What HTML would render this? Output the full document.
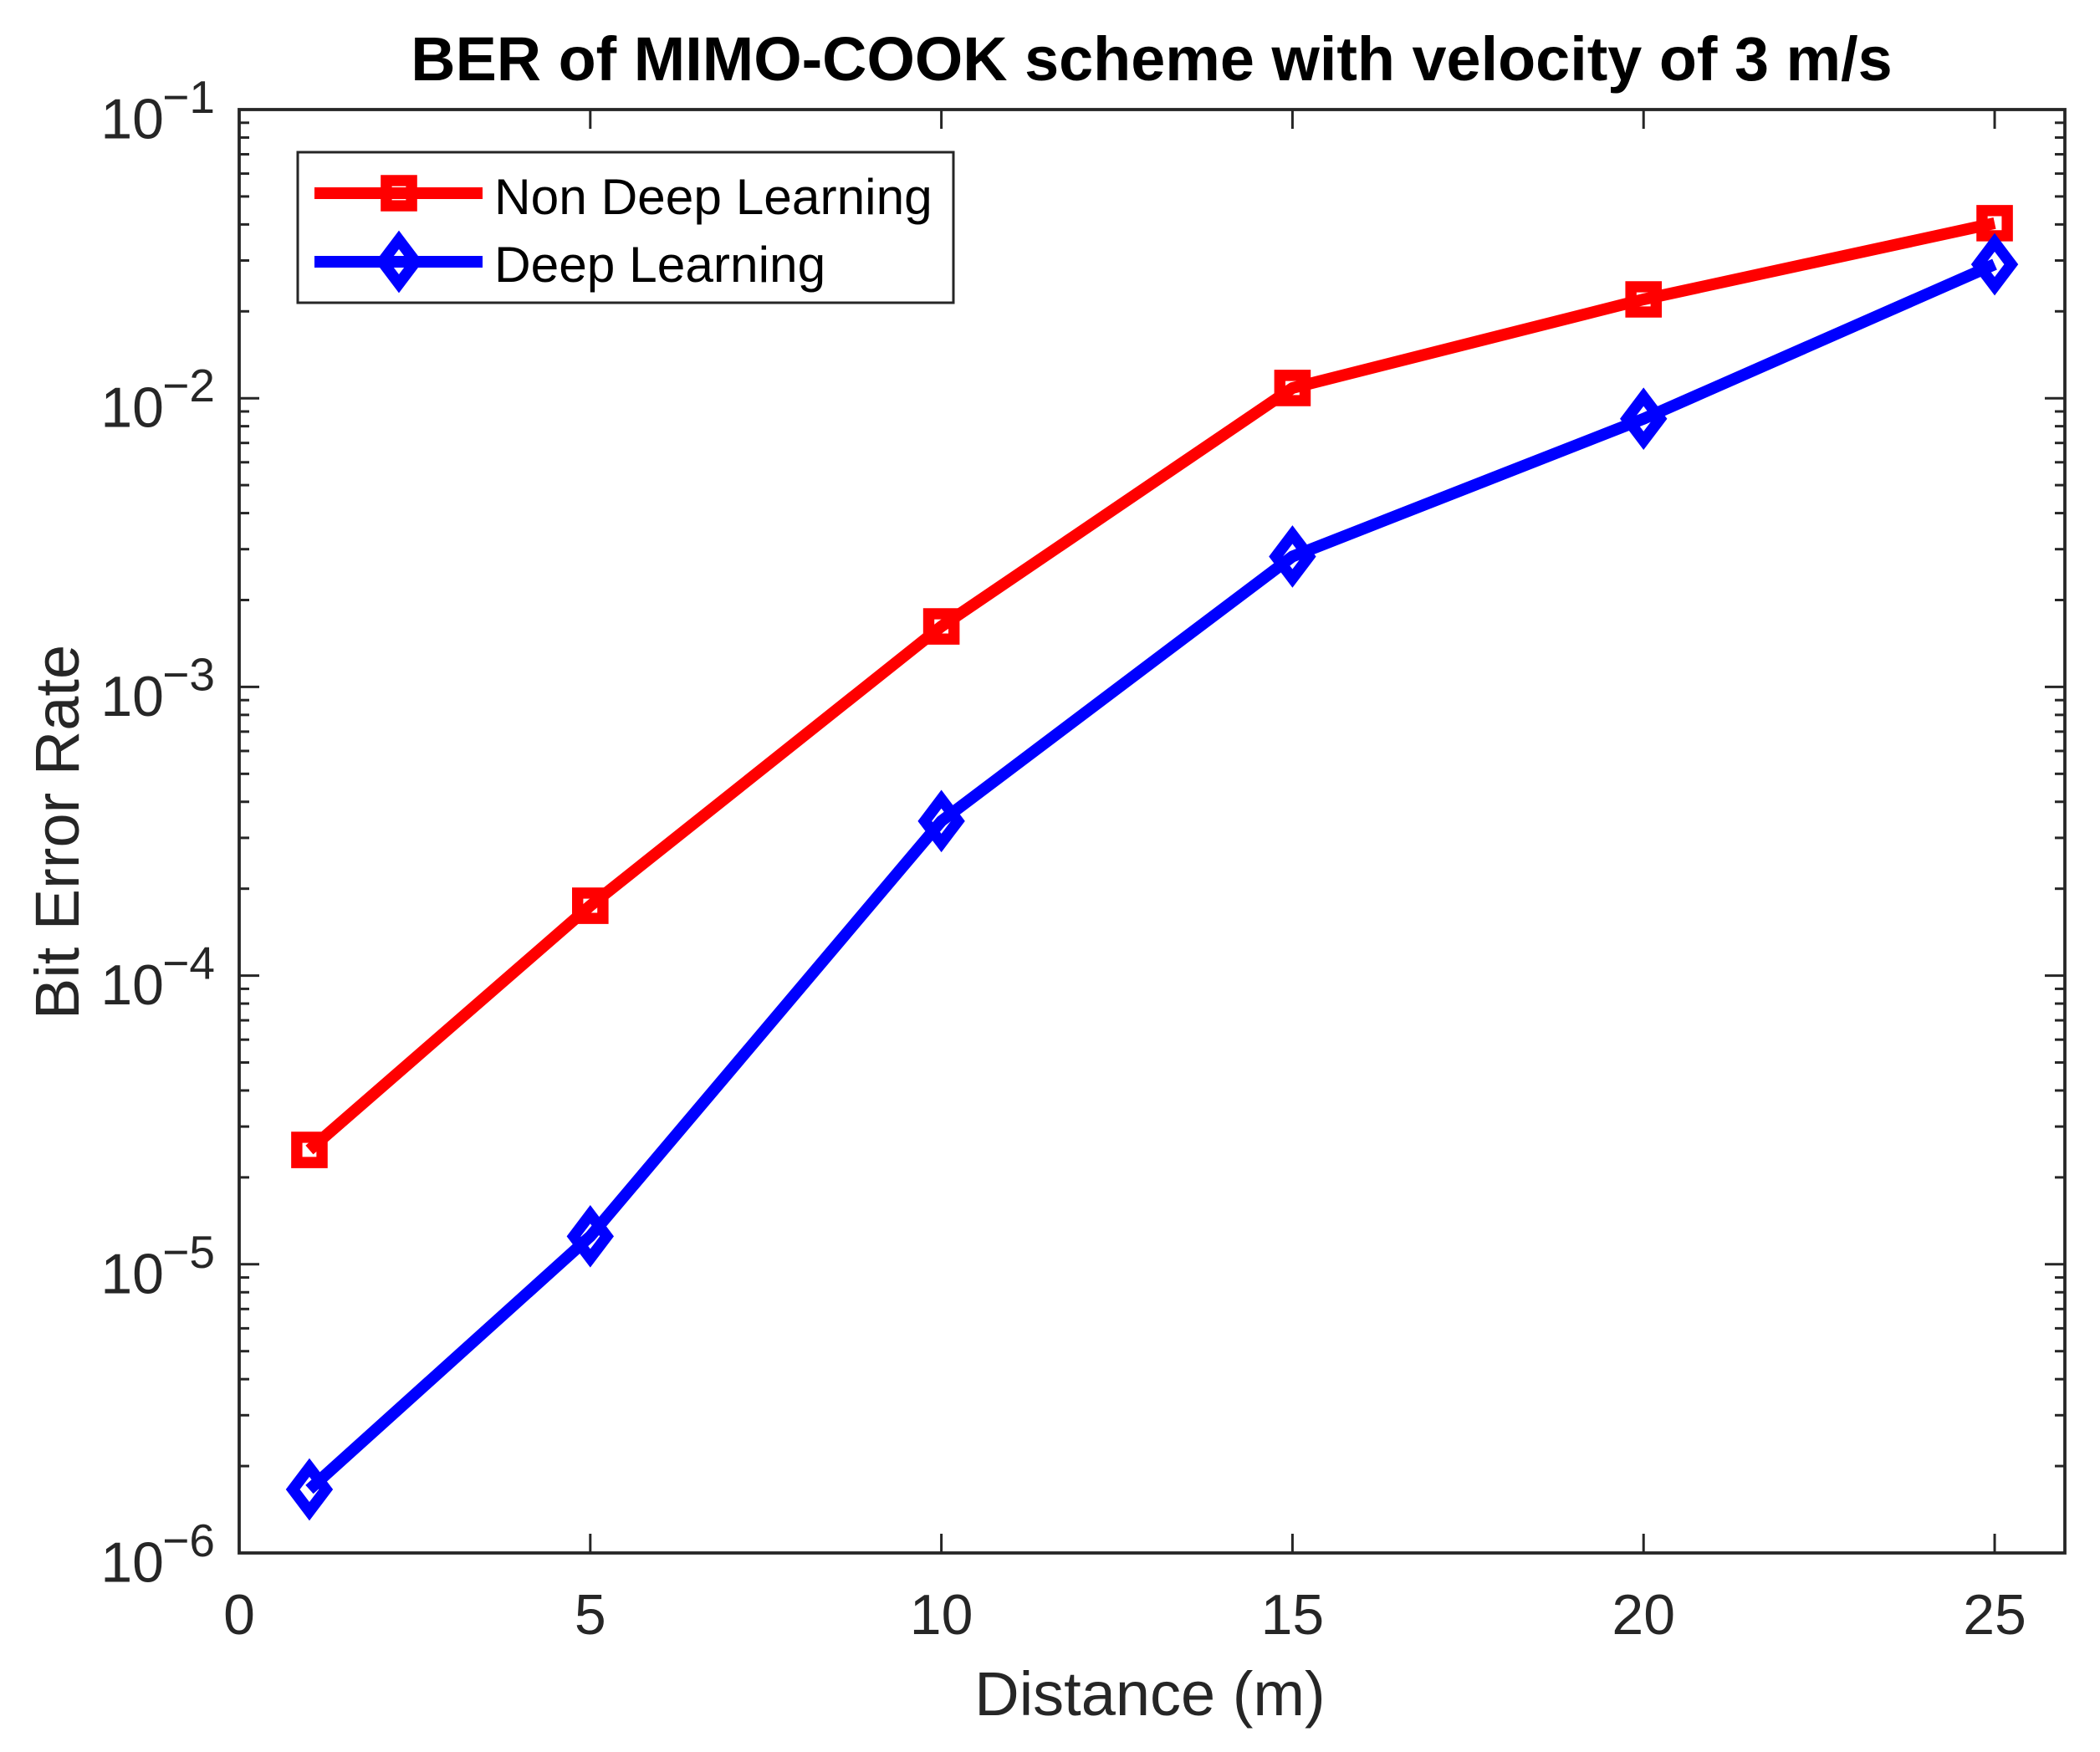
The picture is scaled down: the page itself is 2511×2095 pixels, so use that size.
<!DOCTYPE html>
<html lang="en">
<head>
<meta charset="utf-8">
<title>BER of MIMO-COOK scheme with velocity of 3 m/s</title>
<style>
html,body{margin:0;padding:0;background:#fff;}
svg{display:block;font-family:"Liberation Sans",Arial,sans-serif;}
</style>
</head>
<body>
<svg id="chart" xmlns="http://www.w3.org/2000/svg" width="2511" height="2095" viewBox="0 0 2511 2095">
  <rect x="0" y="0" width="2511" height="2095" fill="#ffffff"/>
  <text x="1377" y="96" font-size="73.8" font-weight="bold" fill="#000" text-anchor="middle">BER of MIMO-COOK scheme with velocity of 3 m/s</text>
  <text x="1375" y="2051" font-size="74" fill="#262626" text-anchor="middle">Distance (m)</text>
  <text transform="translate(94 995) rotate(-90)" font-size="74" fill="#262626" text-anchor="middle">Bit Error Rate</text>
  <g id="ticks"></g>
  <g id="labels"></g>
  <g id="series"></g>
  <rect x="286" y="131" width="2183" height="1726" fill="none" stroke="#262626" stroke-width="3.8"/>
  <g id="legend">
    <rect x="356" y="182" width="784" height="180" fill="#fff" stroke="#262626" stroke-width="3"/>
    <text x="591" y="256" font-size="60.4" fill="#000">Non Deep Learning</text>
    <text x="591" y="337" font-size="60.4" fill="#000">Deep Learning</text>
  </g>
</svg>
<script>
const distances = [1, 5, 10, 15, 20, 25];
const nonDeepLearning = [2.49e-5, 1.746e-4, 1.62e-3, 0.01085, 0.022, 0.0404];
const deepLearning = [1.66e-6, 1.25e-5, 3.43e-4, 0.00283, 0.00849, 0.0291];
const xTickValues = [0, 5, 10, 15, 20, 25];
const yTickExponents = [-6, -5, -4, -3, -2, -1];
const minorMultipliers = [2, 3, 4, 5, 6, 7, 8, 9];

const NS = 'http://www.w3.org/2000/svg';
const plot = {left: 286, right: 2469, top: 131, bottom: 1857};
const xMax = 26, yMinExp = -6, yMaxExp = -1;
function X(v) { return plot.left + v / xMax * (plot.right - plot.left); }
function Y(v) { return plot.bottom - (Math.log10(v) - yMinExp) / (yMaxExp - yMinExp) * (plot.bottom - plot.top); }
function mk(parent, tag, attrs, text) {
  const el = document.createElementNS(NS, tag);
  for (const k in attrs) el.setAttribute(k, attrs[k]);
  if (text !== undefined) el.textContent = text;
  parent.appendChild(el);
  return el;
}
function tick(x1, y1, x2, y2) {
  return mk(ticksG, 'line', {x1: x1, y1: y1, x2: x2, y2: y2, stroke: '#262626', 'stroke-width': 3});
}
function squarePath(cx, cy) {
  const a = 15.1;
  return 'M' + (cx - a) + ' ' + (cy - a) + 'H' + (cx + a) + 'V' + (cy + a) + 'H' + (cx - a) + 'Z';
}
function diamondPath(cx, cy) {
  const w = 19.8, h = 26.2;
  return 'M' + cx + ' ' + (cy - h) + 'L' + (cx + w) + ' ' + cy + 'L' + cx + ' ' + (cy + h) + 'L' + (cx - w) + ' ' + cy + 'Z';
}

const ticksG = document.getElementById('ticks');
const labelsG = document.getElementById('labels');
const seriesG = document.getElementById('series');
const legendG = document.getElementById('legend');

xTickValues.forEach(function (v) {
  const top = tick(X(v), plot.top, X(v), plot.top + 23);
  
  
  const bottom = tick(X(v), plot.bottom, X(v), plot.bottom - 23);
  
  
  const label = mk(labelsG, 'text', {x: X(v), y: 1954, 'font-size': 68, fill: '#262626', 'text-anchor': 'middle'}, String(v));
  
  
});

yTickExponents.forEach(function (e) {
  const value = Math.pow(10, e);
  const y = Y(value);
  const left = tick(plot.left, y, plot.left + 24, y);
  
  
  const right = tick(plot.right, y, plot.right - 24, y);
  
  
  const base = mk(labelsG, 'text', {x: 196, y: y + 34.5, 'font-size': 68, fill: '#262626', 'text-anchor': 'end'}, '10');
  
  
  const exp = mk(labelsG, 'text', {x: 257, y: y + 4, 'font-size': 55, fill: '#262626', 'text-anchor': 'end'}, '\u2212' + Math.abs(e));
  
  
  if (e < yMaxExp) {
    minorMultipliers.forEach(function (m) {
      const ym = Y(m * value);
      const a = tick(plot.left, ym, plot.left + 12, ym);
      
      
      const b = tick(plot.right, ym, plot.right - 12, ym);
      
      
    });
  }
});

function linePoints(values) {
  return values.map(function (v, i) { return X(distances[i]) + ',' + Y(v); }).join(' ');
}

const redLine = mk(seriesG, 'polyline', {points: linePoints(nonDeepLearning), fill: 'none', stroke: '#ff0000', 'stroke-width': 14, 'stroke-linejoin': 'miter'});


nonDeepLearning.forEach(function (v, i) {
  const m = mk(seriesG, 'path', {d: squarePath(X(distances[i]), Y(v)), fill: 'none', stroke: '#ff0000', 'stroke-width': 13.4});
  
  
});

const blueLine = mk(seriesG, 'polyline', {points: linePoints(deepLearning), fill: 'none', stroke: '#0000ff', 'stroke-width': 14, 'stroke-linejoin': 'miter'});


deepLearning.forEach(function (v, i) {
  const m = mk(seriesG, 'path', {d: diamondPath(X(distances[i]), Y(v)), fill: 'none', stroke: '#0000ff', 'stroke-width': 13.4, 'stroke-miterlimit': 10});
  
  
});

const legendRedLine = mk(legendG, 'line', {x1: 376, y1: 231, x2: 577, y2: 231, stroke: '#ff0000', 'stroke-width': 14});


const legendRedMarker = mk(legendG, 'path', {d: squarePath(477, 231), fill: 'none', stroke: '#ff0000', 'stroke-width': 13.4});


const legendBlueLine = mk(legendG, 'line', {x1: 376, y1: 313, x2: 577, y2: 313, stroke: '#0000ff', 'stroke-width': 14});


const legendBlueMarker = mk(legendG, 'path', {d: diamondPath(477, 313), fill: 'none', stroke: '#0000ff', 'stroke-width': 13.4, 'stroke-miterlimit': 10});


</script>
</body>
</html>
